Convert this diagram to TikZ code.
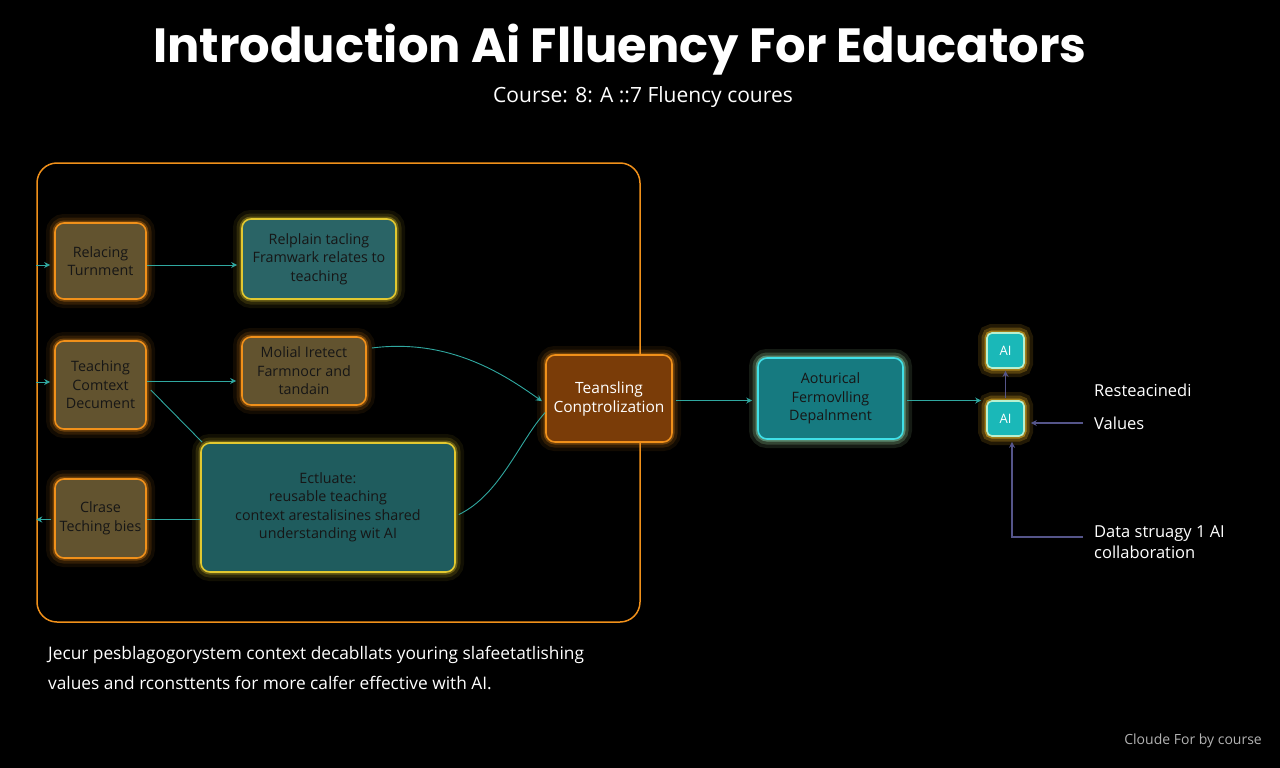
\documentclass[tikz,border=0pt]{standalone}
\usepackage{fontspec}
\setmainfont{Open Sans}
\newfontfamily\titlefont{Poppins}
\usetikzlibrary{arrows.meta}
\definecolor{orb}{HTML}{F0901A}
\definecolor{yel}{HTML}{E2C830}
\definecolor{olive}{HTML}{62532F}
\definecolor{tealf}{HTML}{2A6466}
\definecolor{tealf2}{HTML}{1F5C5E}
\definecolor{brownf}{HTML}{7A3C08}
\definecolor{cyb}{HTML}{40E0E8}
\definecolor{cyf}{HTML}{167A80}
\definecolor{aif}{HTML}{1AB8B8}
\definecolor{aib}{HTML}{B8F0D0}
\definecolor{conn}{HTML}{30A8A0}
\definecolor{purp}{HTML}{55558A}
\definecolor{darktxt}{HTML}{161616}
\tikzset{
  glow/.style={preaction={draw=#1,line width=18pt,opacity=0.08},
               preaction={draw=#1,line width=11pt,opacity=0.14},
               preaction={draw=#1,line width=5pt,opacity=0.32}},
  boxo/.style={draw=orb,fill=olive,line width=1.6pt,rounded corners=9pt,glow=orb,
               text=darktxt,align=center,inner sep=2pt},
  boxy/.style={draw=yel,fill=tealf,line width=1.6pt,rounded corners=9pt,glow=yel,
               text=darktxt,align=center,inner sep=2pt},
  tl/.style={draw=conn,line width=0.9pt},
  pl/.style={draw=purp,line width=1.1pt},
  tip/.style={-{Stealth[length=6pt,width=6pt]}},
  lbl/.style={text=white,font=\fontsize{16.5}{21}\selectfont,align=left,inner sep=0pt}
}
\begin{document}
\begin{tikzpicture}[x=1pt,y=-1pt,font=\fontsize{14.3}{18.5}\selectfont]
\fill[black] (0,0) rectangle (1280,768);
\useasboundingbox (0,0) rectangle (1280,768);

\node[text=white,font=\titlefont\bfseries\fontsize{48}{54}\selectfont] (title) at (620,50) {Introduction Ai Flluency For Educators};
\node[text=white,font=\fontsize{21}{24}\selectfont] (sub) at (643,97) {Course: 8: A ::7 Fluency coures};

\node[draw=orb,rounded corners=20pt,minimum width=603pt,minimum height=459pt,line width=1.5pt] (outer) at (338.5,392.5) {};

\node[boxo,minimum width=91pt,minimum height=76pt] (b1) at (100.5,261) {Relacing\\Turnment};
\node[boxy,minimum width=154pt,minimum height=80pt] (b2) at (319,259) {Relplain tacling\\Framwark relates to\\teaching};
\node[boxo,minimum width=91pt,minimum height=88pt] (b3) at (100.5,385) {Teaching\\Comtext\\Decument};
\node[boxo,minimum width=124pt,minimum height=68pt] (b4) at (304,371) {Molial Iretect\\Farmnocr and\\tandain};
\node[boxy,fill=tealf2,minimum width=254pt,minimum height=129pt] (b5) at (328,507.5) {Ectluate:\\reusable teaching\\context arestalisines shared\\understanding wit AI};
\node[boxo,minimum width=91pt,minimum height=79pt] (b6) at (100.5,518.5) {Clrase\\Teching bies};
\node[boxo,fill=brownf,text=white,font=\fontsize{15.5}{19}\selectfont,minimum width=126pt,minimum height=87pt] (b7) at (609,398.5) {Teansling\\Conptrolization};
\node[boxo,draw=cyb,fill=cyf,glow=cyb,minimum width=145pt,minimum height=81pt] (b8) at (830.5,398.5) {Aoturical\\Fermovlling\\Depalnment};
\node[boxo,draw=aib,fill=aif,glow=yel,text=white,rounded corners=5pt,minimum width=37pt,minimum height=35pt,font=\fontsize{13}{15}\selectfont] (ai2) at (1005.5,350.5) {AI};
\node[boxo,draw=aib,fill=aif,glow=yel,text=white,rounded corners=5pt,minimum width=37pt,minimum height=35pt,font=\fontsize{13}{15}\selectfont] (ai1) at (1005.5,418.5) {AI};

\node[lbl,anchor=west] (lab1) at (1094,390) {Resteacinedi};
\node[lbl,anchor=west] (lab2) at (1094,423) {Values};
\node[lbl,anchor=north west] (lab3) at (1094,525) {Data struagy 1 AI\\collaboration};

\node[text=white,font=\fontsize{17.3}{30}\selectfont,align=left,anchor=north west,inner sep=0pt] (foot) at (48,646) {Jecur pesblagogorystem context decabllats youring slafeetatlishing\\values and rconsttents for more calfer effective with AI.};
\node[text=white!70!black,font=\fontsize{14}{16}\selectfont,anchor=east,inner sep=0pt] (brand) at (1262,741) {Cloude For by course};

% connectors
\coordinate (e1) at ([yshift=-4pt]outer.west |- b1.west);
\coordinate (e3) at ([yshift=3pt]outer.west |- b3.west);
\coordinate (e6) at ([yshift=-1pt]outer.west |- b6.west);
\coordinate (s1) at ([yshift=-4pt]b1.east);
\coordinate (s3) at ([yshift=4pt]b3.east);
\coordinate (s7) at ([yshift=-2pt]b7.east);
\coordinate (s8) at ([yshift=-2pt]b8.east);
\draw[tl,tip,shorten >=4pt] (e1) -- (b1.west |- e1);
\draw[tl,tip,shorten >=4pt] (e3) -- (b3.west |- e3);
\draw[tl,tip,shorten <=3pt] (b6.west |- e6) -- (e6);
\draw[tl,tip,shorten >=4pt] (s1) -- (b2.west |- s1);
\draw[tl,tip,shorten >=5pt] (s3) -- (b4.west |- s3);
\draw[tl] ([xshift=4pt,yshift=-5pt]b3.east) -- ([xshift=2pt]b5.north west);
\draw[tl] (b5.west |- e6) -- (b6.east |- e6);
\draw[tl,tip,shorten >=4pt] ([xshift=5pt,yshift=23pt]b4.east) .. controls (450,338) and (505,375) .. ([yshift=-5pt]b7.west);
\draw[tl] ([xshift=3pt,yshift=-7pt]b5.east) .. controls (500,495) and (520,440) .. ([yshift=-14pt]b7.west);
\draw[tl,tip,shorten >=5pt,shorten <=3pt] (s7) -- (b8.west |- s7);
\draw[tl,tip,shorten >=5pt,shorten <=3pt] (s8) -- (ai1.west |- s8);
\draw[pl,tip,shorten <=2pt,shorten >=2pt] (ai1.north) -- (ai2.south);
\coordinate (vs) at ([xshift=-11pt]lab2.west);
\draw[pl,tip,shorten >=6pt] (vs) -- (ai1.east |- vs);
\coordinate (ds) at (1083,537);
\draw[pl,tip,shorten >=5pt] (ds) -| ([xshift=6.5pt]ai1.south);
\end{tikzpicture}
\end{document}
